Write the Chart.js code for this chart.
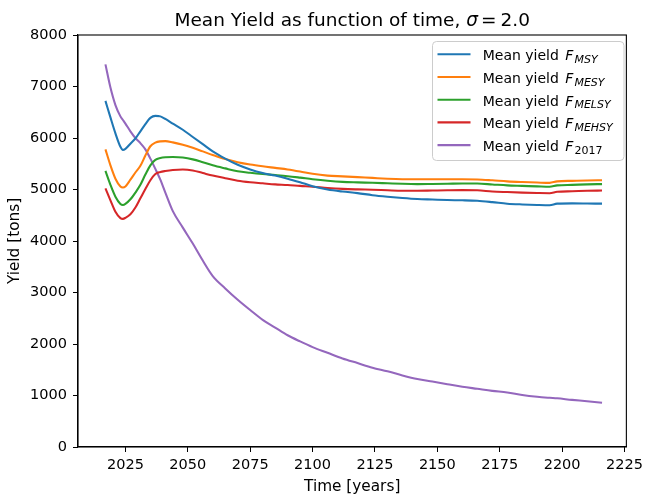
<!DOCTYPE html>
<html>
<head>
<meta charset="utf-8">
<script src="https://cdn.jsdelivr.net/npm/chart.js@4.4.1/dist/chart.umd.min.js"></script>
<style>
body { margin: 0; background: #fff; }
</style>
</head>
<body>
<canvas id="myChart" width="648" height="497"></canvas>
<script>
var years = [2017, 2019, 2021, 2023, 2024, 2025, 2027, 2029, 2031, 2033,
  2035, 2037, 2039, 2041, 2044, 2048, 2052, 2056, 2060, 2065,
  2070, 2075, 2080, 2085, 2090, 2095, 2100, 2106, 2112, 2118,
  2124, 2130, 2136, 2142, 2148, 2154, 2160, 2166, 2172, 2178,
  2184, 2190, 2195, 2198, 2204, 2210, 2216];

var yieldMSY = [6720, 6400, 6090, 5830, 5770, 5790, 5890, 5990, 6130, 6270,
  6390, 6430, 6420, 6370, 6280, 6160, 6020, 5880, 5740, 5600,
  5480, 5390, 5320, 5270, 5210, 5140, 5065, 5000, 4960, 4930,
  4890, 4860, 4835, 4815, 4805, 4795, 4790, 4780, 4755, 4725,
  4710, 4700, 4695, 4725, 4730, 4728, 4725];

var yieldMESY = [5780, 5470, 5210, 5060, 5040, 5060, 5190, 5330, 5460, 5660,
  5840, 5910, 5935, 5940, 5915, 5870, 5810, 5740, 5670, 5590,
  5530, 5485, 5450, 5420, 5390, 5350, 5305, 5270, 5255, 5240,
  5225, 5210, 5200, 5198, 5198, 5198, 5200, 5195, 5178, 5158,
  5145, 5135, 5128, 5158, 5168, 5175, 5180];

var yieldMELSY = [5360, 5090, 4860, 4720, 4700, 4720, 4810, 4940, 5090, 5290,
  5470, 5575, 5610, 5625, 5630, 5620, 5585, 5530, 5470, 5410,
  5355, 5325, 5300, 5280, 5258, 5230, 5200, 5170, 5148, 5138,
  5130, 5120, 5110, 5105, 5108, 5112, 5118, 5115, 5098, 5080,
  5070, 5060, 5052, 5080, 5090, 5100, 5105];

var yieldMEHSY = [5020, 4790, 4570, 4445, 4430, 4450, 4520, 4650, 4830, 5010,
  5180, 5300, 5340, 5360, 5380, 5390, 5370, 5320, 5270, 5220,
  5170, 5140, 5120, 5100, 5088, 5070, 5055, 5030, 5012, 5002,
  4995, 4985, 4976, 4975, 4980, 4985, 4988, 4985, 4962, 4950,
  4940, 4932, 4928, 4955, 4965, 4975, 4980];

var yieldF2017 = [7430, 6980, 6640, 6420, 6350, 6280, 6130, 6000, 5900, 5780,
  5600, 5400, 5190, 4940, 4580, 4260, 3950, 3620, 3320, 3080,
  2860, 2660, 2470, 2320, 2170, 2050, 1940, 1830, 1720, 1630,
  1540, 1470, 1390, 1320, 1270, 1220, 1170, 1130, 1090, 1060,
  1010, 975, 955, 945, 915, 890, 860];

var xTicks = [2025, 2050, 2075, 2100, 2125, 2150, 2175, 2200, 2225];
var subNames = ["MSY", "MESY", "MELSY", "MEHSY", "2017"];
var colors = ["#1f77b4", "#ff7f0e", "#2ca02c", "#d62728", "#9467bd"];
var FONT = "'DejaVu Sans', sans-serif";

function toPoints(arr) {
  var pts = [];
  for (var i = 0; i < years.length; i++) {
    pts.push({ x: years[i], y: arr[i] });
  }
  return pts;
}

var allSeries = [yieldMSY, yieldMESY, yieldMELSY, yieldMEHSY, yieldF2017];
var datasets = [];
for (var i = 0; i < allSeries.length; i++) {
  datasets.push({
    label: "Mean yield F" + subNames[i],
    data: toPoints(allSeries[i]),
    borderColor: colors[i],
    backgroundColor: colors[i],
    borderWidth: 2.08,
    pointRadius: 0,
    fill: false,
    cubicInterpolationMode: "monotone"
  });
}

// title, box frame and legend drawn by hand (italic sigma, subscripts)
var extrasPlugin = {
  id: "extras",
  afterDraw: function (chart) {
    var ctx = chart.ctx;
    var a = chart.chartArea;
    ctx.save();

    // frame
    ctx.strokeStyle = "#000";
    ctx.lineWidth = 1.1;
    ctx.strokeRect(a.left, a.top, a.right - a.left, a.bottom - a.top);

    // title
    var tf = "18.5px " + FONT;
    var tfi = "italic 18.5px " + FONT;
    var p1 = "Mean Yield as function of time, ";
    ctx.fillStyle = "#000";
    ctx.textBaseline = "alphabetic";
    ctx.font = tf;
    var w1 = ctx.measureText(p1).width;
    var wEq = ctx.measureText("=").width;
    var w3 = ctx.measureText("2.0").width;
    ctx.font = tfi;
    var w2 = ctx.measureText("\u03c3").width;
    var total = w1 + w2 + 3 + wEq + 4 + w3;
    var tx = (a.left + a.right) / 2 - total / 2;
    var ty = 26;
    ctx.font = tf;
    ctx.fillText(p1, tx, ty);
    ctx.font = tfi;
    ctx.fillText("\u03c3", tx + w1, ty);
    ctx.font = tf;
    ctx.fillText("=", tx + w1 + w2 + 3, ty);
    ctx.fillText("2.0", tx + w1 + w2 + 3 + wEq + 4, ty);

    // legend box
    var bx = 432.5, by = 41.5, bw = 191.5, bh = 119, r = 4;
    ctx.beginPath();
    ctx.moveTo(bx + r, by);
    ctx.lineTo(bx + bw - r, by);
    ctx.quadraticCurveTo(bx + bw, by, bx + bw, by + r);
    ctx.lineTo(bx + bw, by + bh - r);
    ctx.quadraticCurveTo(bx + bw, by + bh, bx + bw - r, by + bh);
    ctx.lineTo(bx + r, by + bh);
    ctx.quadraticCurveTo(bx, by + bh, bx, by + bh - r);
    ctx.lineTo(bx, by + r);
    ctx.quadraticCurveTo(bx, by, bx + r, by);
    ctx.closePath();
    ctx.fillStyle = "rgba(255,255,255,0.8)";
    ctx.fill();
    ctx.strokeStyle = "#cccccc";
    ctx.lineWidth = 1;
    ctx.stroke();

    for (var i = 0; i < subNames.length; i++) {
      var cy = 54.3 + i * 22.7;
      ctx.strokeStyle = colors[i];
      ctx.lineWidth = 2.08;
      ctx.beginPath();
      ctx.moveTo(437.5, cy);
      ctx.lineTo(470.5, cy);
      ctx.stroke();

      var x = 482.7, base = cy + 6;
      ctx.fillStyle = "#000";
      ctx.font = "14px " + FONT;
      ctx.fillText("Mean yield", x, base);
      x += ctx.measureText("Mean yield").width + 6.5;
      ctx.font = "italic 14px " + FONT;
      ctx.fillText("F", x, base);
      x += ctx.measureText("F").width + 1;
      if (subNames[i] === "2017") {
        ctx.font = "11px " + FONT;
      } else {
        ctx.font = "italic 11px " + FONT;
      }
      ctx.fillText(subNames[i], x, base + 2.5);
    }
    ctx.restore();
  }
};

var ctx = document.getElementById("myChart").getContext("2d");
var myChart = new Chart(ctx, {
  type: "line",
  data: { datasets: datasets },
  options: {
    responsive: false,
    animation: false,
    layout: { padding: { top: 35, right: 16, left: 0, bottom: 0 } },
    plugins: {
      legend: { display: false },
      title: { display: false },
      tooltip: { enabled: false }
    },
    scales: {
      x: {
        type: "linear",
        min: 2006,
        max: 2225.75,
        afterBuildTicks: function (axis) {
          axis.ticks = xTicks.map(function (v) { return { value: v }; });
        },
        afterFit: function (scale) { scale.height = 50; },
        ticks: {
          callback: function (v) { return String(v); },
          color: "#000",
          font: { family: FONT, size: 14.5 },
          padding: 5,
          maxRotation: 0,
          autoSkip: false
        },
        grid: { display: true, drawOnChartArea: false, drawTicks: true, tickLength: 5, color: "#000" },
        border: { display: true, color: "#000", width: 1.1 },
        title: {
          display: true,
          text: "Time [years]",
          color: "#000",
          font: { family: FONT, size: 15.3 },
          padding: { top: 0, bottom: 1 }
        }
      },
      y: {
        min: 0,
        max: 8000,
        afterFit: function (scale) { scale.width = 78; },
        ticks: {
          stepSize: 1000,
          callback: function (v) { return String(v); },
          color: "#000",
          font: { family: FONT, size: 14.5 },
          padding: 6
        },
        grid: { display: true, drawOnChartArea: false, drawTicks: true, tickLength: 5, color: "#000" },
        border: { display: true, color: "#000", width: 1.1 },
        title: {
          display: true,
          text: "Yield [tons]",
          color: "#000",
          font: { family: FONT, size: 15.3 },
          padding: { top: 6, bottom: 0 }
        }
      }
    }
  },
  plugins: [extrasPlugin]
});
</script>
</body>
</html>
